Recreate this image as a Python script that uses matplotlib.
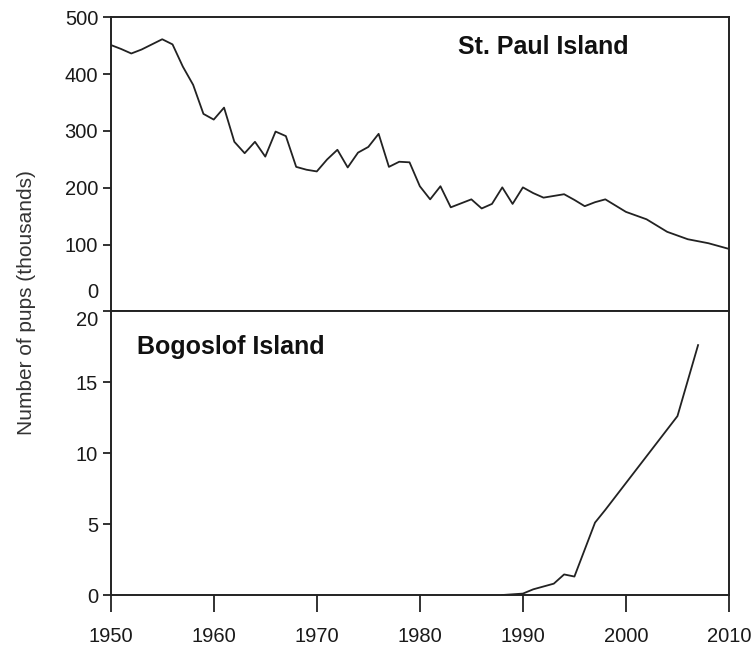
import numpy as np
import matplotlib
matplotlib.use('Agg')
import matplotlib.pyplot as plt

# St. Paul Island pup counts (thousands)
stpaul_years = [1950, 1951, 1952, 1953, 1954, 1955, 1956, 1957, 1958, 1959,
                1960, 1961, 1962, 1963, 1964, 1965, 1966, 1967, 1968, 1969,
                1970, 1971, 1972, 1973, 1974, 1975, 1976, 1977, 1978, 1979,
                1980, 1981, 1982, 1983, 1984, 1985, 1986, 1987, 1988, 1989,
                1990, 1991, 1992, 1993, 1994, 1995, 1996, 1997, 1998,
                2000, 2002, 2004, 2006, 2008, 2010]
stpaul_pups = [451, 444, 436, 443, 452, 461, 452, 413, 381, 330,
               320, 341, 281, 261, 281, 255, 299, 291, 237, 232,
               229, 250, 267, 236, 262, 272, 295, 237, 246, 245,
               203, 180, 203, 166, 173, 180, 164, 172, 201, 172,
               201, 191, 183, 186, 189, 179, 168, 175, 180,
               158, 145, 123, 110, 103, 93]

# Bogoslof Island pup counts (thousands)
bogo_years = [1988, 1989, 1990, 1991, 1992, 1993, 1994, 1995, 1997, 1998, 2005, 2007]
bogo_pups = [0.0, 0.05, 0.1, 0.4, 0.6, 0.8, 1.45, 1.3, 5.1, 6.0, 12.6, 17.6]

xticks = [1950, 1960, 1970, 1980, 1990, 2000, 2010]
top_ticks = [0, 100, 200, 300, 400, 500]
bot_ticks = [0, 5, 10, 15, 20]

plt.rcParams['font.family'] = ['Liberation Sans', 'DejaVu Sans']
txt = '#1a1a1a'

fig = plt.figure(figsize=(7.52, 6.45), dpi=100)
L, R = 0.1472, 0.9694
ax1 = fig.add_axes([L, 0.5178, R - L, 0.9736 - 0.5178])
ax2 = fig.add_axes([L, 0.0775, R - L, 0.5178 - 0.0775])

for ax in (ax1, ax2):
    for s in ax.spines.values():
        s.set_linewidth(1.4)
        s.set_color('#222222')
    ax.set_xlim(1950, 2010)
    ax.tick_params(axis='y', direction='out', length=6, width=1.3,
                   pad=3, labelsize=14.5, labelcolor=txt, color='#222222')

ax1.plot(stpaul_years, stpaul_pups, color='#222222', lw=1.3)
ax1.set_ylim(-16, 500)
ax1.set_yticks(top_ticks)
ax1.set_xticks([])
t0 = ax1.yaxis.get_major_ticks()[0]
t0.tick1line.set_visible(False)
t0.label1.set_va('bottom')   # the "0" sits a bit above the joint, no tick
ax1.text(0.562, 0.898, 'St. Paul Island', transform=ax1.transAxes,
         fontsize=18, fontweight='bold', va='center', ha='left', color='#111111')

ax2.plot(bogo_years, bogo_pups, color='#222222', lw=1.3)
ax2.set_ylim(0, 20)
ax2.set_yticks(bot_ticks)
ax2.yaxis.get_major_ticks()[-1].label1.set_va('top')
ax2.set_xticks(xticks)
ax2.tick_params(axis='x', direction='out', length=12, width=1.3, pad=11,
                labelsize=14.5, labelcolor=txt, color='#222222')
ax2.text(0.0425, 0.873, 'Bogoslof Island', transform=ax2.transAxes,
         fontsize=18, fontweight='bold', va='center', ha='left', color='#111111')

fig.text(27 / 752, 1 - 303 / 645, 'Number of pups (thousands)', rotation=90,
         ha='center', va='center', fontsize=15, color='#333333')

fig.savefig('out.png', dpi=100)
